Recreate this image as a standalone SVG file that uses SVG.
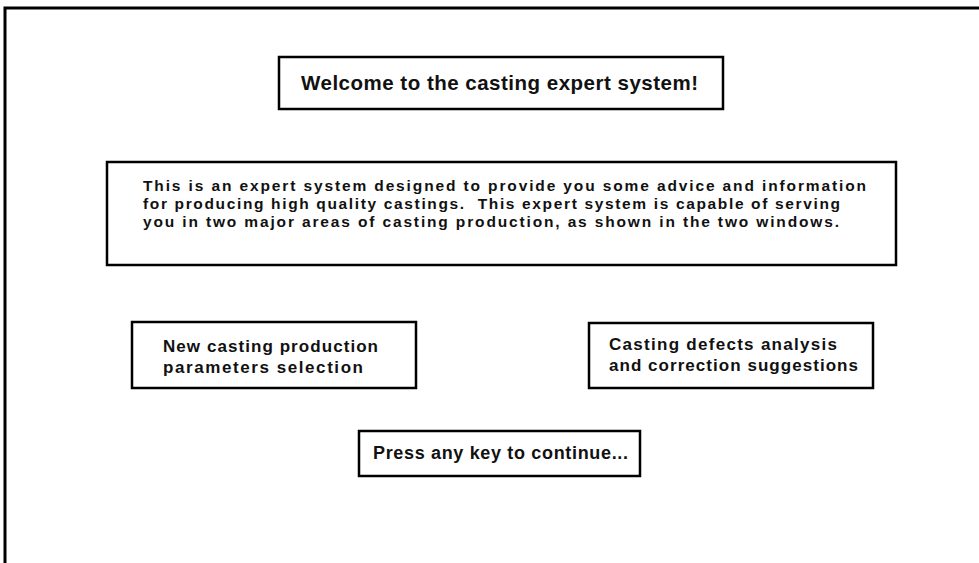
<svg xmlns="http://www.w3.org/2000/svg" width="979" height="563" viewBox="0 0 979 563">
<style>
.box{fill:#fff;stroke:#000;stroke-width:2.5}
.frame{fill:none;stroke:#000;stroke-width:3}
text{font-family:"Liberation Sans",Arial,sans-serif;font-weight:bold;fill:#111;font-size:17px;white-space:pre}
.body{font-size:15.5px}
.title{font-size:20.5px}
.press{font-size:18px}
</style>
<rect width="979" height="563" fill="#fff"/>
<g id="frame"><path class="frame" d="M5,563 V8 H979"/></g>
<g id="welcome">
<rect class="box" x="279" y="57" width="444" height="52"/>
<text class="title" x="301" y="90" textLength="397" lengthAdjust="spacing">Welcome to the casting expert system!</text>
</g>
<g id="intro">
<rect class="box" x="107" y="162" width="789" height="103"/>
<text class="body" x="143" y="191" textLength="723" lengthAdjust="spacing">This is an expert system designed to provide you some advice and information</text>
<text class="body" x="143" y="209" textLength="697" lengthAdjust="spacing">for producing high quality castings.  This expert system is capable of serving</text>
<text class="body" x="143" y="227" textLength="696" lengthAdjust="spacing">you in two major areas of casting production, as shown in the two windows.</text>
</g>
<g id="new-casting">
<rect class="box" x="132" y="322" width="284" height="66"/>
<text x="163" y="352" textLength="215" lengthAdjust="spacing">New casting production</text>
<text x="163" y="373" textLength="200" lengthAdjust="spacing">parameters selection</text>
</g>
<g id="defects">
<rect class="box" x="589" y="323" width="284" height="65"/>
<text x="609" y="350" textLength="228" lengthAdjust="spacing">Casting defects analysis</text>
<text x="609" y="371" textLength="249" lengthAdjust="spacing">and correction suggestions</text>
</g>
<g id="press">
<rect class="box" x="359" y="431" width="281" height="45"/>
<text class="press" x="373" y="459" textLength="255" lengthAdjust="spacing">Press any key to continue...</text>
</g>
<g id="connectors"></g>
</svg>
